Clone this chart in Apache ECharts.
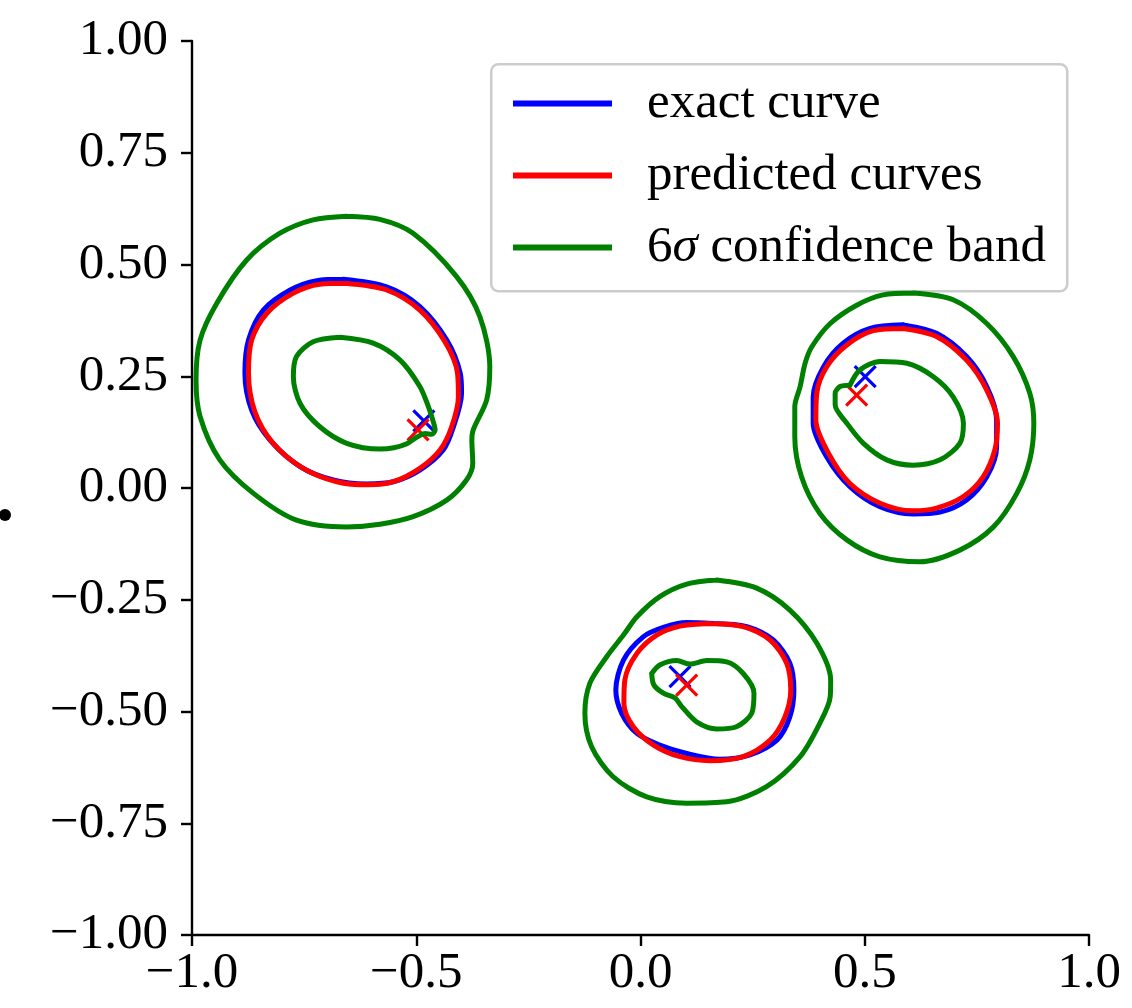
<!DOCTYPE html>
<html>
<head>
<meta charset="utf-8">
<script src="https://cdn.jsdelivr.net/npm/echarts@6/dist/echarts.min.js"></script>
<style>html,body{margin:0;padding:0;background:#fff;}#c{width:1132px;height:1008px;}</style>
</head>
<body>
<div id="c"></div>
<script>
// ---- data ----
const xTicks = [-1.0, -0.5, 0.0, 0.5, 1.0];
const yTicks = [-1.0, -0.75, -0.5, -0.25, 0, 0.25, 0.5, 0.75, 1.0];
const legendNames = ['exact curve', 'predicted curves', '6\u03c3 confidence band'];

// left cluster
const exactA = [[-0.663,0.467],[-0.566,0.450],[-0.492,0.406],[-0.432,0.331],[-0.402,0.257],[-0.399,0.212],[-0.417,0.137],[-0.440,0.085],[-0.492,0.040],[-0.551,0.014],[-0.611,0.009],[-0.685,0.018],[-0.759,0.048],[-0.826,0.107],[-0.867,0.174],[-0.882,0.257],[-0.874,0.331],[-0.841,0.398],[-0.781,0.443],[-0.722,0.464]];
const predA = [[-0.659,0.458],[-0.566,0.443],[-0.492,0.398],[-0.436,0.327],[-0.408,0.257],[-0.406,0.204],[-0.421,0.137],[-0.447,0.085],[-0.492,0.044],[-0.551,0.014],[-0.607,0.007],[-0.677,0.014],[-0.752,0.044],[-0.819,0.100],[-0.860,0.171],[-0.874,0.257],[-0.867,0.331],[-0.833,0.391],[-0.774,0.436],[-0.715,0.456]];
const outerA = [[-0.655,0.608],[-0.581,0.601],[-0.507,0.570],[-0.410,0.473],[-0.358,0.383],[-0.336,0.271],[-0.343,0.197],[-0.373,0.130],[-0.376,0.107],[-0.374,0.055],[-0.388,0.018],[-0.432,-0.027],[-0.507,-0.064],[-0.581,-0.081],[-0.655,-0.087],[-0.767,-0.072],[-0.863,-0.012],[-0.938,0.063],[-0.982,0.160],[-0.991,0.242],[-0.982,0.331],[-0.945,0.413],[-0.878,0.510],[-0.804,0.570],[-0.730,0.600]];
const innerA = [[-0.670,0.337],[-0.596,0.324],[-0.536,0.286],[-0.492,0.227],[-0.473,0.182],[-0.462,0.148],[-0.458,0.130],[-0.466,0.120],[-0.480,0.122],[-0.500,0.113],[-0.521,0.099],[-0.550,0.090],[-0.581,0.087],[-0.655,0.100],[-0.715,0.137],[-0.759,0.189],[-0.774,0.249],[-0.767,0.294],[-0.730,0.327]];

// right cluster
const exactB = [[0.586,0.365],[0.660,0.346],[0.727,0.294],[0.772,0.227],[0.794,0.152],[0.794,0.092],[0.772,0.025],[0.727,-0.027],[0.668,-0.054],[0.608,-0.058],[0.534,-0.042],[0.467,0.003],[0.415,0.070],[0.385,0.145],[0.385,0.204],[0.408,0.271],[0.452,0.324],[0.512,0.357]];
const predB = [[0.586,0.357],[0.660,0.339],[0.727,0.286],[0.772,0.219],[0.796,0.145],[0.790,0.085],[0.764,0.025],[0.720,-0.019],[0.660,-0.045],[0.608,-0.051],[0.534,-0.034],[0.467,0.010],[0.419,0.078],[0.391,0.152],[0.393,0.212],[0.415,0.271],[0.460,0.320],[0.519,0.352]];
const outerB = [[0.608,0.436],[0.697,0.421],[0.772,0.368],[0.831,0.294],[0.868,0.212],[0.877,0.145],[0.868,0.063],[0.839,-0.012],[0.787,-0.087],[0.712,-0.139],[0.623,-0.165],[0.534,-0.154],[0.460,-0.116],[0.400,-0.057],[0.359,0.025],[0.344,0.115],[0.344,0.182],[0.356,0.227],[0.367,0.279],[0.382,0.316],[0.423,0.368],[0.482,0.409],[0.541,0.432]];
const innerB = [[0.467,0.230],[0.489,0.264],[0.534,0.283],[0.594,0.279],[0.653,0.249],[0.697,0.204],[0.720,0.145],[0.712,0.100],[0.668,0.063],[0.608,0.051],[0.549,0.063],[0.497,0.100],[0.460,0.145],[0.434,0.186],[0.434,0.212],[0.445,0.227]];

// bottom cluster
const exactC = [[0.162,-0.303],[0.237,-0.310],[0.296,-0.340],[0.333,-0.392],[0.342,-0.452],[0.333,-0.512],[0.304,-0.564],[0.244,-0.597],[0.177,-0.607],[0.103,-0.594],[0.043,-0.575],[-0.008,-0.549],[-0.042,-0.504],[-0.055,-0.452],[-0.038,-0.385],[0.006,-0.333],[0.051,-0.312],[0.103,-0.301]];
const predC = [[0.155,-0.303],[0.229,-0.310],[0.289,-0.340],[0.326,-0.392],[0.335,-0.452],[0.322,-0.512],[0.289,-0.564],[0.229,-0.601],[0.155,-0.610],[0.088,-0.601],[0.029,-0.575],[-0.016,-0.534],[-0.037,-0.482],[-0.035,-0.430],[-0.008,-0.370],[0.036,-0.329],[0.088,-0.309]];
const outerC = [[0.170,-0.206],[0.259,-0.224],[0.333,-0.273],[0.393,-0.347],[0.424,-0.430],[0.423,-0.467],[0.400,-0.526],[0.356,-0.601],[0.281,-0.668],[0.192,-0.702],[0.103,-0.705],[0.014,-0.691],[-0.061,-0.646],[-0.109,-0.579],[-0.124,-0.504],[-0.113,-0.437],[-0.075,-0.377],[-0.038,-0.329],[-0.008,-0.288],[0.043,-0.243],[0.103,-0.215]];
const innerC = [[0.025,-0.415],[0.043,-0.396],[0.081,-0.386],[0.110,-0.394],[0.148,-0.386],[0.192,-0.389],[0.229,-0.415],[0.253,-0.459],[0.248,-0.504],[0.214,-0.534],[0.170,-0.539],[0.125,-0.523],[0.092,-0.489],[0.077,-0.470],[0.051,-0.459],[0.030,-0.441]];

// centre markers
const exactCenters = [[-0.483,0.150],[0.501,0.249],[0.088,-0.422]];
const predCenters = [[-0.496,0.130],[0.482,0.208],[0.103,-0.441]];

// ---- chart ----
const FONT = '"Liberation Serif", "Times New Roman", serif';
const BLUE = '#0000ff', RED = '#ff0000', GREEN = '#008000';
const close = a => a.concat([a[0]]);
const fmt = (v, d) => (v < 0 ? '\u2212' : '') + Math.abs(v).toFixed(d);

function loop(name, data, color) {
  return {
    type: 'line', name: name, data: close(data), smooth: 0.3,
    showSymbol: false, symbol: 'none', silent: true, animation: false,
    lineStyle: { color: color, width: 5, opacity: 1, join: 'round', cap: 'round' }, itemStyle: { color: color }
  };
}
function cross(name, data, color) {
  return {
    type: 'scatter', name: name, data: data, animation: false, silent: true,
    symbol: 'path://M0,0L10,10M10,0L0,10', symbolSize: 21,
    itemStyle: { color: 'none', borderColor: color, borderWidth: 3.2, opacity: 1 }
  };
}

const chart = echarts.init(document.getElementById('c'), null, { renderer: 'canvas' });
chart.setOption({
  backgroundColor: '#ffffff',
  animation: false,
  grid: { left: 192, right: 43, top: 41, bottom: 73, containLabel: false },
  xAxis: {
    type: 'value', min: -1, max: 1, interval: 0.5,
    axisLine: { show: true, onZero: false, lineStyle: { color: '#000', width: 2.4 } },
    axisTick: { show: true, length: 11, lineStyle: { color: '#000', width: 2.4 } },
    splitLine: { show: false },
    axisLabel: { color: '#000', fontFamily: FONT, fontSize: 51, margin: 13,
      formatter: v => fmt(v, 1) }
  },
  yAxis: {
    type: 'value', min: -1, max: 1, interval: 0.25,
    axisLine: { show: true, onZero: false, lineStyle: { color: '#000', width: 2.4 } },
    axisTick: { show: true, length: 11, lineStyle: { color: '#000', width: 2.4 } },
    splitLine: { show: false },
    axisLabel: { color: '#000', fontFamily: FONT, fontSize: 51, margin: 24,
      formatter: v => fmt(v, 2) }
  },
  legend: {
    data: legendNames.map((n, i) => ({ name: n, icon: 'rect', itemStyle: { color: [BLUE, RED, GREEN][i] } })),
    orient: 'vertical', left: 508, top: 73,
    itemWidth: 99, itemHeight: 6, itemGap: 21,
    selectedMode: false,
    formatter: n => n === legendNames[2] ? '6{i|\u03c3} confidence band' : n,
    textStyle: { color: '#000', fontFamily: FONT, fontSize: 51, lineHeight: 50, padding: [0, 0, 0, 30],
      rich: { i: { fontFamily: FONT, fontSize: 51, fontStyle: 'italic', lineHeight: 50 } } }
  },
  graphic: [
    { type: 'rect', left: 490, top: 63, z: -1, shape: { width: 576, height: 227, r: 7 },
      style: { fill: 'rgba(255,255,255,0.85)', stroke: '#cccccc', lineWidth: 2.5 } },
    { type: 'circle', left: -1, top: 509, shape: { r: 6 }, style: { fill: '#000' } }
  ],
  series: [
    loop(legendNames[0], exactA, BLUE), loop(legendNames[0], exactB, BLUE), loop(legendNames[0], exactC, BLUE),
    loop(legendNames[1], predA, RED), loop(legendNames[1], predB, RED), loop(legendNames[1], predC, RED),
    loop(legendNames[2], outerA, GREEN), loop(legendNames[2], innerA, GREEN),
    loop(legendNames[2], outerB, GREEN), loop(legendNames[2], innerB, GREEN),
    loop(legendNames[2], outerC, GREEN), loop(legendNames[2], innerC, GREEN),
    cross('exact centre', exactCenters, BLUE), cross('predicted centre', predCenters, RED)
  ]
});
</script>
</body>
</html>
